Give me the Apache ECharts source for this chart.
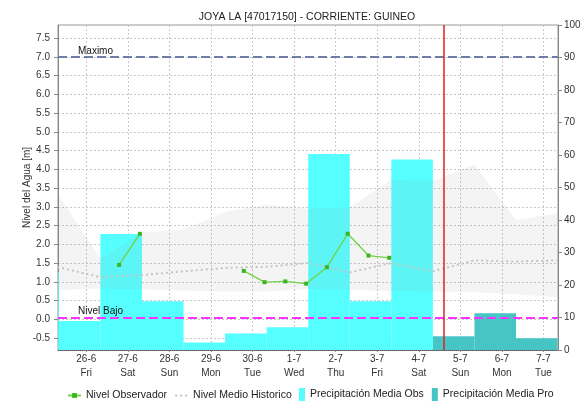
<!DOCTYPE html>
<html>
<head>
<meta charset="utf-8">
<script src="https://cdn.jsdelivr.net/npm/echarts@6/dist/echarts.min.js"></script>
<style>
html,body{margin:0;padding:0;background:#fff;}
#chart{width:585px;height:403px;}
</style>
</head>
<body>
<div id="chart"></div>
<script>
// ---- data ----
const dayLabels = ['26-6','27-6','28-6','29-6','30-6','1-7','2-7','3-7','4-7','5-7','6-7','7-7'];
const weekdays  = ['Fri','Sat','Sun','Mon','Tue','Wed','Thu','Fri','Sat','Sun','Mon','Tue'];
const dayTicks  = [0,1,2,3,4,5,6,7,8,9,10,11];

// precipitation (right axis, mm) per day index
const obsDays   = [-1, 0, 1, 2, 3, 4, 5, 6, 7, 8];
const obsPrecip = [23.9, 8.9, 35.7, 15.0, 2.3, 5.1, 7.0, 60.3, 15.0, 58.6];
const proDays   = [9, 10, 11];
const proPrecip = [4.2, 11.3, 3.6];

// historical band and mean (left axis, m) at daily vertices
const histTimes = [-1.66,-0.66,0.34,1.34,2.34,3.34,4.34,5.34,6.34,7.34,8.34,9.34,10.34,11.34];
const bandTop   = [3.30, 3.30, 1.62, 2.32, 2.39, 2.86, 3.06, 2.95, 2.99, 3.72, 3.69, 4.13, 2.65, 2.83];
const bandLow   = [0.78, 0.78, 0.82, 0.80, 0.77, 0.74, 0.74, 0.81, 0.78, 0.76, 0.74, 0.72, 0.67, 0.59];
const histMean  = [1.39, 1.39, 1.12, 1.18, 1.28, 1.37, 1.40, 1.50, 1.25, 1.50, 1.28, 1.57, 1.54, 1.57];

// observed level (left axis, m), 07:00 and 19:00 readings
const obsTimes  = [0.79, 1.29, 1.79, 2.29, 2.79, 3.29, 3.79, 4.29, 4.79, 5.29, 5.79, 6.29, 6.79, 7.29];
const obsLevel  = [1.45, 2.28, null, null, null, null, 1.29, 0.99, 1.01, 0.95, 1.39, 2.28, 1.70, 1.64];

const leftTicks = [-0.5,0,0.5,1,1.5,2,2.5,3,3.5,4,4.5,5,5.5,6,6.5,7,7.5];
const nivelMaximo = 7.0;
const nivelBajo = 0.05;
const nowTime = 8.59;

// ---- build ----
const FONT = 'Liberation Sans';
const barStart = -0.66, barEnd = 0.34;
const obsBars = obsDays.map((d,i)=>[d+barStart, d+barEnd, obsPrecip[i]]);
const proBars = proDays.map((d,i)=>[d+barStart, d+barEnd, proPrecip[i]]);
const pair = (xs, ys) => xs.map((x,i)=>[x, ys[i]]);
// value first, time second (so stacking happens on the value dimension)
const pairVT = (xs, ys) => xs.map((x,i)=>[ys[i], x]);

function barRender(color){
  return function(params, api){
    const p0 = api.coord([api.value(0), api.value(2)]);
    const p1 = api.coord([api.value(1), 0]);
    const rect = echarts.graphic.clipRectByRect(
      {x:p0[0], y:p0[1], width:p1[0]-p0[0], height:p1[1]-p0[1]}, params.coordSys);
    return rect && {type:'rect', shape:rect, style:{fill:color}};
  };
}

const chart = echarts.init(document.getElementById('chart'), null, {renderer:'canvas'});
const gridLine = {show:true, lineStyle:{color:'#c8c8c8', type:[2,2], width:1}};
const legendText = {fontFamily:FONT, fontSize:10.5, color:'#222'};
chart.setOption({
  animation:false,
  backgroundColor:'#fff',
  textStyle:{fontFamily:FONT},
  title:{
    text:'JOYA LA [47017150] - CORRIENTE: GUINEO',
    left:302, top:7, textAlign:'center',
    textStyle:{fontFamily:FONT, fontSize:10.5, fontWeight:'normal', color:'#222'}
  },
  grid:{left:58, right:27, top:25, bottom:53, show:true, borderColor:'#999', borderWidth:1, backgroundColor:'transparent'},
  legend:[
    {data:[{name:'Nivel Observador'},{name:'Nivel Medio Historico', itemStyle:{opacity:0}}],
     left:67, top:390, padding:0, itemWidth:13, itemHeight:6, itemGap:7, textStyle:legendText},
    {data:[{name:'Precipitación Media Obs', icon:'rect'},{name:'Precipitación Media Pro', icon:'rect'}],
     left:299, top:388, padding:0, itemWidth:6, itemHeight:13, itemGap:8, textStyle:legendText}
  ],
  xAxis:{
    type:'value', min:-0.68, max:11.35,
    axisLine:{show:true, onZero:false, lineStyle:{color:'#555', type:[1,1]}},
    axisTick:{show:true, customValues:dayTicks, length:2, lineStyle:{color:'#888'}},
    axisLabel:{customValues:dayTicks, fontFamily:FONT, fontSize:10, color:'#333', lineHeight:14, margin:2,
      formatter:(v)=>dayLabels[Math.round(v)]+'\n'+weekdays[Math.round(v)]},
    splitLine:gridLine
  },
  yAxis:[
    {type:'value', min:-0.82, max:7.85, position:'left',
     name:'Nivel del Agua [m]', nameLocation:'middle', nameGap:26, nameRotate:90, nameMoveOverlap:false,
     nameTextStyle:{fontFamily:FONT, fontSize:10, color:'#333'},
     axisLine:{show:true, onZero:false, lineStyle:{color:'#888'}},
     axisTick:{show:true, customValues:leftTicks, length:4, lineStyle:{color:'#888'}},
     axisLabel:{customValues:leftTicks, fontFamily:FONT, fontSize:10, color:'#333', margin:8,
       formatter:(v)=>v.toFixed(1)},
     splitLine:gridLine},
    {type:'value', min:0, max:100, interval:10, position:'right',
     axisLine:{show:true, onZero:false, lineStyle:{color:'#888'}},
     axisTick:{show:true, length:4, lineStyle:{color:'#888'}},
     axisLabel:{fontFamily:FONT, fontSize:10, color:'#333', margin:6},
     splitLine:{show:false}}
  ],
  series:[
    {name:'Precipitación Media Obs', type:'custom', xAxisIndex:0, yAxisIndex:1,
     itemStyle:{color:'#55ffff'}, renderItem:barRender('#55ffff'),
     encode:{x:[0,1], y:2}, data:obsBars},
    {name:'Precipitación Media Pro', type:'custom', xAxisIndex:0, yAxisIndex:1,
     itemStyle:{color:'#47c5c5'}, renderItem:barRender('#47c5c5'),
     encode:{x:[0,1], y:2}, data:proBars},
    {name:'bandLow', type:'line', yAxisIndex:0, stack:'band', symbol:'none', silent:true,
     encode:{x:1, y:0}, lineStyle:{opacity:0}, data:pairVT(histTimes, bandLow)},
    {name:'bandRange', type:'line', yAxisIndex:0, stack:'band', symbol:'none', silent:true,
     encode:{x:1, y:0}, lineStyle:{opacity:0}, areaStyle:{color:'rgba(150,150,150,0.15)'},
     data:pairVT(histTimes, bandTop.map((t,i)=>+(t-bandLow[i]).toFixed(3)))},
    {name:'Nivel Medio Historico', type:'line', yAxisIndex:0, symbol:'none', silent:true,
     itemStyle:{color:'#c4c4c4'},
     lineStyle:{color:'#c4c4c4', width:2, type:[2,3]}, data:pair(histTimes, histMean)},
    {name:'Nivel Observador', type:'line', yAxisIndex:0, symbol:'rect', symbolSize:4, connectNulls:false,
     itemStyle:{color:'#3cb521'}, lineStyle:{color:'#72d248', width:1.3},
     data:pair(obsTimes, obsLevel),
     markLine:{silent:true, symbol:'none', animation:false,
       data:[
         {yAxis:nivelMaximo, lineStyle:{color:'#6e7ca8', width:2, type:[9,4]},
          label:{show:true, formatter:'Maximo', position:'insideStartTop', distance:[20,1],
                 fontFamily:FONT, fontSize:10, color:'#111'}},
         {yAxis:nivelBajo, lineStyle:{color:'#ff33ff', width:2, type:[9,4]},
          label:{show:true, formatter:'Nivel Bajo', position:'insideStartTop', distance:[20,1],
                 fontFamily:FONT, fontSize:10, color:'#111'}},
         {xAxis:nowTime, lineStyle:{color:'#e02020', width:1.5, type:'solid'}, label:{show:false}}
       ]}}
  ]
});
</script>
</body>
</html>
